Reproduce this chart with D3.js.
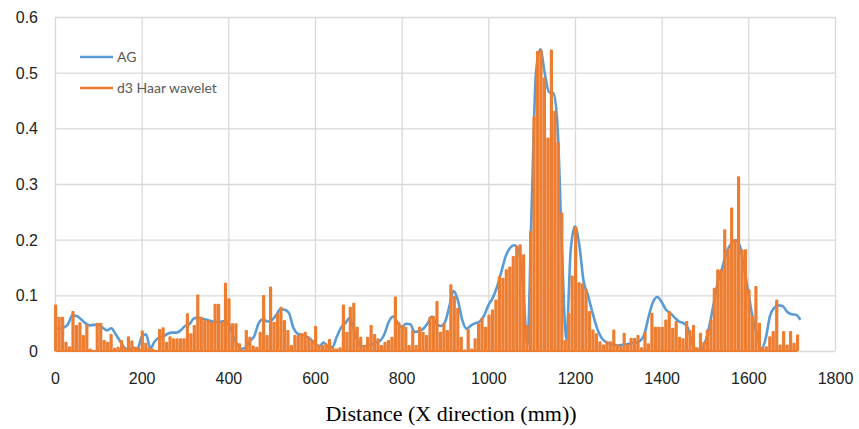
<!DOCTYPE html>
<html>
<head>
<meta charset="utf-8">
<script src="https://cdn.jsdelivr.net/npm/d3@7"></script>
<style>
  body { margin: 0; background: #fff; }
  svg { display: block; font-family: Lato, "Open Sans", sans-serif; }
  .grid line { stroke: #d9d9d9; stroke-width: 1.3; }
  .grid text { fill: #222; font-size: 16px; }
</style>
</head>
<body>
<div class="chart-container"></div>
<script>
        // sampling step along the distance axis (mm)
        var agStep = 10,
            haarStep = 8;

        // AG: one value every 10 mm, 0 .. 1720
        var agValues = [
            0.039, 0.04, 0.042, 0.048, 0.064, 0.063, 0.057, 0.05, 0.046, 0.047,     // 0
            0.047, 0.042, 0.037, 0.041, 0.03, 0.018, 0.006, 0.002, 0.006, 0.003,     // 100
            0.025, 0.03, 0.005, 0.017, 0.024, 0.026, 0.031, 0.033, 0.033, 0.037,     // 200
            0.045, 0.048, 0.058, 0.06, 0.058, 0.056, 0.054, 0.052, 0.052, 0.054,     // 300
            0.048, 0.03, 0.012, 0.004, 0.006, 0.018, 0.027, 0.05, 0.057, 0.053,      // 400
            0.055, 0.064, 0.075, 0.074, 0.068, 0.042, 0.031, 0.029, 0.026, 0.021,    // 500
            0.013, 0.009, 0.015, 0.007, 0.007, 0.025, 0.042, 0.05, 0.059, 0.038,     // 600
            0.015, 0.008, 0.01, 0.012, 0.015, 0.018, 0.03, 0.052, 0.062, 0.052,      // 700
            0.042, 0.049, 0.048, 0.034, 0.036, 0.04, 0.05, 0.062, 0.049, 0.045,      // 800
            0.052, 0.08, 0.108, 0.09, 0.055, 0.04, 0.046, 0.05, 0.053, 0.063,        // 900
            0.082, 0.095, 0.115, 0.142, 0.17, 0.185, 0.19, 0.181, 0.12, 0.01,        // 1000
            0.26, 0.5, 0.542, 0.5, 0.465, 0.463, 0.4, 0.18, 0.02, 0.18,              // 1100
            0.224, 0.19, 0.125, 0.1, 0.07, 0.043, 0.025, 0.017, 0.013, 0.011,        // 1200
            0.01, 0.011, 0.012, 0.014, 0.015, 0.018, 0.03, 0.062, 0.088, 0.097,      // 1300
            0.088, 0.074, 0.068, 0.06, 0.053, 0.05, 0.042, 0.015, 0.002, 0.002,      // 1400
            0.015, 0.045, 0.085, 0.125, 0.15, 0.178, 0.192, 0.199, 0.19, 0.15,       // 1500
            0.105, 0.06, 0.03, 0.003, 0.022, 0.063, 0.078, 0.082, 0.08, 0.07,        // 1600
            0.066, 0.065, 0.056                                                      // 1700
        ];

        // d3 Haar wavelet: one value every 8 mm, 0 .. 1712
        var haarValues = [
            0.082, 0.06, 0.06, 0.015, 0.007, 0.07, 0.045, 0.05, 0.027, 0.046,        // 0
            0.003, 0.0, 0.049, 0.049, 0.018, 0.015, 0.029, 0.004, 0.006, 0.018,     // 80
            0.005, 0.025, 0.017, 0.006, 0.004, 0.035, 0.013, 0.005, 0.003, 0.0,      // 160
            0.038, 0.041, 0.015, 0.025, 0.021, 0.021, 0.021, 0.021, 0.066, 0.03,     // 240
            0.045, 0.1, 0.06, 0.054, 0.054, 0.051, 0.083, 0.083, 0.051, 0.121,       // 320
            0.093, 0.048, 0.048, 0.012, 0.0, 0.036, 0.024, 0.008, 0.006, 0.033,      // 400
            0.099, 0.027, 0.114, 0.051, 0.066, 0.078, 0.054, 0.036, 0.009, 0.027,    // 480
            0.027, 0.03, 0.033, 0.024, 0.018, 0.043, 0.009, 0.009, 0.012, 0.02,      // 560
            0.005, 0.003, 0.005, 0.082, 0.033, 0.078, 0.085, 0.042, 0.024, 0.009,    // 640
            0.024, 0.045, 0.029, 0.021, 0.009, 0.015, 0.018, 0.024, 0.096, 0.05,     // 720
            0.045, 0.042, 0.009, 0.036, 0.009, 0.042, 0.033, 0.027, 0.06, 0.061,     // 800
            0.088, 0.033, 0.048, 0.036, 0.118, 0.097, 0.076, 0.024, 0.001, 0.038,    // 880
            0.003, 0.021, 0.048, 0.058, 0.042, 0.064, 0.073, 0.091, 0.133, 0.13,     // 960
            0.145, 0.15, 0.169, 0.188, 0.19, 0.172, 0.045, 0.214, 0.42, 0.537,       // 1040
            0.54, 0.49, 0.382, 0.54, 0.43, 0.373, 0.247, 0.018, 0.067, 0.134,        // 1120
            0.222, 0.122, 0.12, 0.11, 0.07, 0.037, 0.03, 0.016, 0.01, 0.016,         // 1200
            0.016, 0.037, 0.01, 0.007, 0.031, 0.01, 0.022, 0.022, 0.027, 0.005,      // 1280
            0.033, 0.012, 0.067, 0.042, 0.042, 0.042, 0.055, 0.07, 0.04, 0.052,      // 1360
            0.024, 0.021, 0.052, 0.036, 0.045, 0.005, 0.031, 0.015, 0.037, 0.055,    // 1440
            0.112, 0.145, 0.145, 0.217, 0.181, 0.256, 0.199, 0.312, 0.181, 0.181,    // 1520
            0.109, 0.061, 0.115, 0.049, 0.004, 0.007, 0.025, 0.034, 0.091, 0.01,     // 1600
            0.034, 0.01, 0.034, 0.013, 0.028                                         // 1680
        ];

        var xTicks = [0, 200, 400, 600, 800, 1000, 1200, 1400, 1600, 1800],
            yTicks = [0, 0.1, 0.2, 0.3, 0.4, 0.5, 0.6];

        var seriesNames = ["AG", "d3 Haar wavelet"],
            seriesColors = ["#5b9bd5", "#ed7d31"];

        var xTitle = "Distance (X direction (mm))";

        var margin = {top: 17, right: 24, bottom: 78, left: 55},
            width = 859 - margin.left - margin.right,
            height = 429 - margin.top - margin.bottom;

        var x = d3.scaleLinear().domain([0, 1800]).range([0, width]),
            y = d3.scaleLinear().domain([0, 0.6]).range([height, 0]);

        var svg = d3.select(".chart-container").append("svg")
            .attr("width", 859)
            .attr("height", 429);

        var focus = svg.append("g")
            .attr("transform", "translate(" + margin.left + "," + margin.top + ")");

        // gridlines + tick labels
        var xAxis = d3.axisBottom(x).tickValues(xTicks).tickSize(-height).tickFormat(d3.format("d")),
            yAxis = d3.axisLeft(y).tickValues(yTicks).tickSize(-width).tickFormat(function(d) { return d === 0 ? "0" : d3.format(".1f")(d); });

        focus.append("g")
            .attr("class", "grid x")
            .attr("transform", "translate(0," + height + ")")
            .call(xAxis)
            .call(function(g) { g.select(".domain").remove(); })
          .selectAll("text")
            .attr("y", 27)
            .attr("dy", "0.35em");

        focus.append("g")
            .attr("class", "grid y")
            .call(yAxis)
            .call(function(g) { g.select(".domain").remove(); })
          .selectAll("text")
            .attr("x", -17)
            .attr("dy", "0.35em");

        // AG smooth line
        var agLine = d3.line()
            .x(function(d, i) { return x(i * agStep); })
            .y(function(d) { return y(d); })
            .curve(d3.curveMonotoneX);

        focus.append("path")
            .datum(agValues)
            .attr("fill", "none")
            .attr("stroke", seriesColors[0])
            .attr("stroke-width", 2.6)
            .attr("stroke-linejoin", "round")
            .attr("d", agLine);

        // Haar wavelet: each coefficient is a narrow pulse from the baseline
        var pulseW = 3;
        var pulsePts = [];
        haarValues.forEach(function(v, i) {
            var d = i * haarStep;
            pulsePts.push([d, 0], [d, v], [d + pulseW, v], [d + pulseW, 0]);
        });

        var haarLine = d3.line()
            .x(function(d) { return x(d[0]); })
            .y(function(d) { return y(d[1]); });

        focus.append("path")
            .datum(pulsePts)
            .attr("fill", "none")
            .attr("stroke", seriesColors[1])
            .attr("stroke-width", 1.9)
            .attr("stroke-linejoin", "round")
            .attr("d", haarLine);

        // legend
        var legend = focus.append("g").attr("transform", "translate(25,40)");
        seriesNames.forEach(function(name, i) {
            var row = legend.append("g").attr("transform", "translate(0," + (i * 31) + ")");
            row.append("line")
                .attr("x1", 0).attr("x2", 33)
                .attr("stroke", seriesColors[i])
                .attr("stroke-width", 2.5);
            row.append("text")
                .attr("x", 37)
                .attr("dy", "0.35em")
                .attr("fill", "#595959")
                .style("font-size", "14px")
                .text(name);
        });

        // x axis title
        svg.append("text")
            .attr("x", margin.left + width / 2 + 6)
            .attr("y", 421)
            .attr("text-anchor", "middle")
            .style("font-family", "'Liberation Serif', 'DejaVu Serif', serif")
            .style("font-size", "22px")
            .attr("fill", "#000")
            .text(xTitle);
</script>
</body>
</html>
